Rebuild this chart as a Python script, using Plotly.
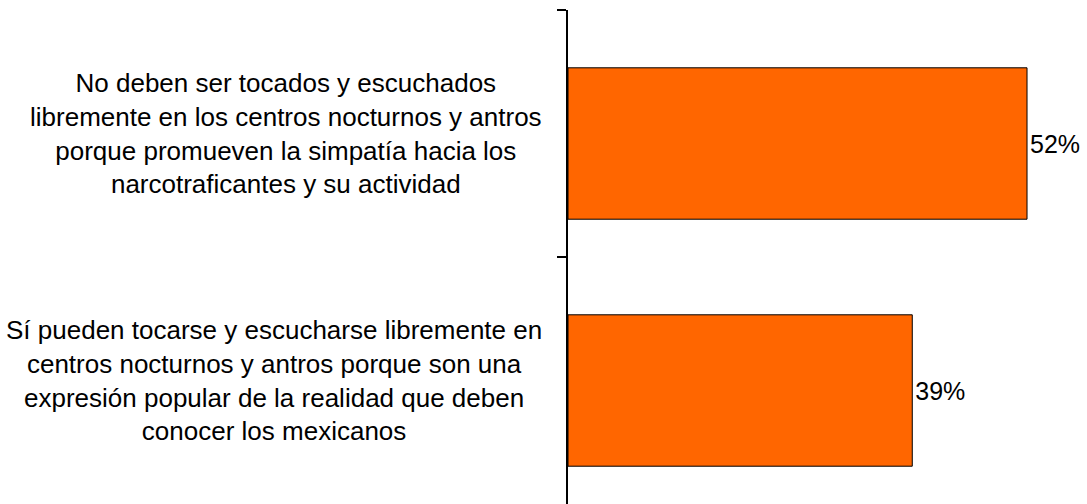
import plotly.graph_objects as go

categories = [
    "No deben ser tocados y escuchados<br>libremente en los centros nocturnos y antros<br>porque promueven la simpatía hacia los<br>narcotraficantes y su actividad",
    "Sí pueden tocarse y escucharse libremente en<br>centros nocturnos y antros porque son una<br>expresión popular de la realidad que deben<br>conocer los mexicanos",
]
values = [52, 39]
ids = ["no", "si"]

FONT = "Arial, 'Liberation Sans', sans-serif"

fig = go.Figure()
fig.add_trace(go.Bar(
    y=ids,
    x=values,
    orientation="h",
    width=0.613,
    offset=-0.266,
    marker=dict(color="#FF6600", line=dict(color="black", width=1)),
    text=[f"{v}%" for v in values],
    textposition="outside",
    textfont=dict(family=FONT, size=25, color="black"),
    cliponaxis=False,
    hoverinfo="skip",
))

for cid, label in zip(ids, categories):
    fig.add_annotation(
        x=0, xref="paper", y=cid, yref="y",
        text=label, showarrow=False,
        xanchor="right", yanchor="middle", align="center",
        xshift=-24,
        font=dict(family=FONT, size=26, color="black"),
    )

fig.update_layout(
    width=1087, height=504,
    margin=dict(l=568, r=7, t=10, b=0),
    paper_bgcolor="white", plot_bgcolor="white",
    showlegend=False,
    xaxis=dict(range=[0, 58], visible=False, showgrid=False, zeroline=False),
    yaxis=dict(
        type="category", autorange="reversed",
        showline=True, linecolor="black", linewidth=2,
        ticks="outside", tickson="boundaries", ticklen=9, tickwidth=2, tickcolor="black",
        showticklabels=False, showgrid=False, zeroline=False,
    ),
)

fig.write_html(
    "out.html",
    config={"displayModeBar": False},
    post_script="document.body.style.margin='0';document.body.style.overflow='hidden';",
)
